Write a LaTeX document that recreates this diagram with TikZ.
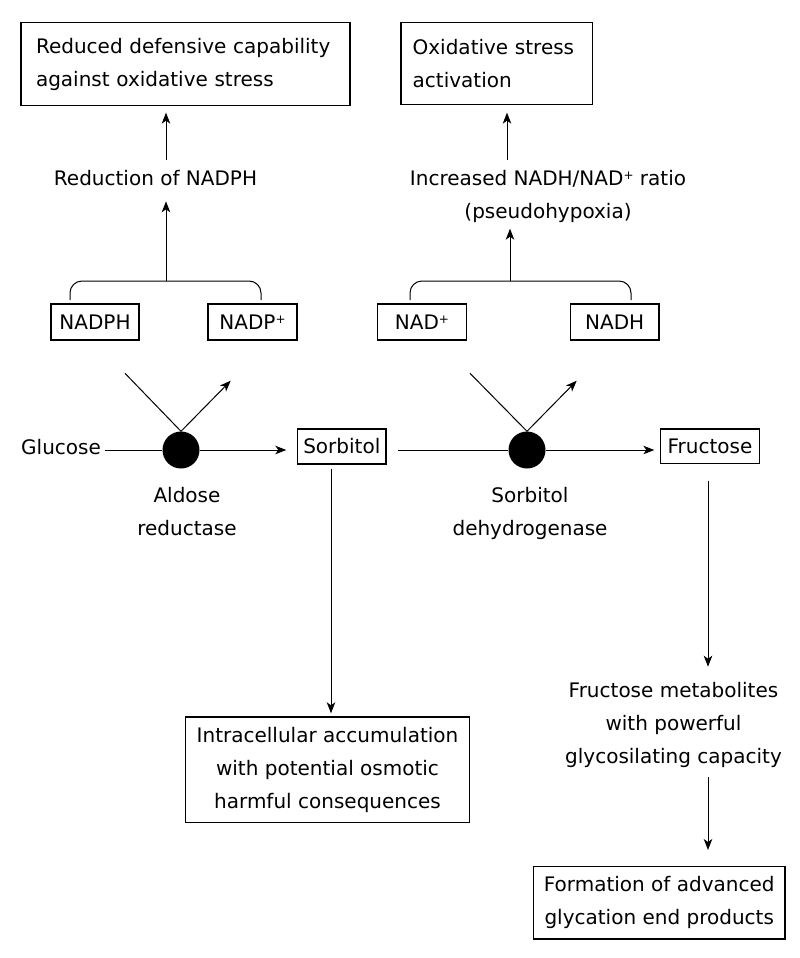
\documentclass[tikz,border=0pt]{standalone}
\usepackage{fontspec}
\setmainfont{DejaVu Sans}
\usetikzlibrary{arrows.meta}
\newcommand{\plussup}{\smash{\raisebox{6pt}{\fontsize{12}{12}\selectfont +}}}
\begin{document}
\begin{tikzpicture}[x=1pt,y=-1pt,
  every node/.style={font=\fontsize{20}{33}\selectfont, inner sep=0pt},
  box/.style={draw, line width=1.3pt},
  sbox/.style={box, text height=14.6pt, text depth=0pt},
  arr/.style={-{Stealth[length=11pt,width=8.5pt,inset=3pt]}, line width=1pt},
  ln/.style={line width=1pt},
  dot/.style={circle, fill=black, minimum size=37pt, inner sep=0pt}]

\useasboundingbox (0,0) rectangle (800,958);

% top boxes
\node[box, text width=299pt, inner xsep=15pt, align=left, minimum height=82.6pt] (box1) at (185.5,64) {Reduced defensive capability\\against oxidative stress};
\node[box, text width=168.3pt, inner xsep=11.7pt, align=left, minimum height=81.6pt] (box2) at (496.8,63.5) {Oxidative stress\\activation};

% middle texts
\node (red) at (155.5,178.4) {Reduction of NADPH};
\node[align=center] (incr) at (548,196) {Increased NADH/NAD\plussup{} ratio\\(pseudohypoxia)};

% cofactor boxes
\node[sbox, minimum width=88pt, minimum height=36pt] (nadph) at (95,322) {NADPH};
\node[sbox, minimum width=89pt, minimum height=36pt] (nadp) at (252.5,322) {NADP\plussup};
\node[sbox, minimum width=88.6pt, minimum height=36pt] (nad) at (422,322) {NAD\plussup};
\node[sbox, minimum width=88.7pt, minimum height=36pt] (nadh) at (614.7,322) {NADH};

% main pathway
\node[anchor=base west] (gluc) at (21,454.3) {Glucose};
\node[dot] (cL) at (181,450) {};
\node[dot] (cR) at (527,450) {};
\node[sbox, minimum width=88.3pt, minimum height=35pt] (sorb) at (341.8,446.5) {Sorbitol};
\node[sbox, minimum width=98.6pt, minimum height=34.3pt] (fruc) at (710,446.2) {Fructose};

\node[align=center] (ald) at (187,512) {Aldose\\reductase};
\node[align=center] (sdh) at (530,513.6) {Sorbitol\\dehydrogenase};

% bottom
\node[box, align=center, minimum width=283.6pt, minimum height=105.7pt] (intra) at (327.5,769.8) {Intracellular accumulation\\with potential osmotic\\harmful consequences};
\node[align=center] (met) at (673.5,724.9) {Fructose metabolites\\with powerful\\glycosilating capacity};
\node[box, align=center, minimum width=251.7pt, minimum height=72.3pt] (age) at (659.2,902.8) {Formation of advanced\\glycation end products};

% coordinates
\coordinate (bL) at (166,281);
\coordinate (bLa) at (70,300);
\coordinate (bLb) at (261,300);
\coordinate (bR) at (510,281);
\coordinate (bR2) at (507,281);
\coordinate (bRa) at (410,300);
\coordinate (bRb) at (631,300);
\coordinate (inL) at (125,373.3);
\coordinate (outL) at (230.7,380.7);
\coordinate (inR) at (470,373.3);
\coordinate (outR) at (576.7,380.7);
\coordinate (sd) at ([xshift=-10.8pt]sorb.south);
\coordinate (fd) at ([xshift=-2pt]fruc.south);

% braces
\draw[ln, rounded corners=12pt] (bLa) |- (bL) -| (bLb);
\draw[ln, rounded corners=12pt] (bRa) |- (bR) -| (bRb);

% vertical arrows top
\draw[arr, shorten >=15pt] (bL) -- (bL |- red.south);
\draw[arr, shorten <=10.8pt, shorten >=6.7pt] (red.north -| bL) -- (box1.south -| bL);
\draw[arr, shorten >=6.3pt] (bR) -- (bR |- incr.south);
\draw[arr, shorten <=9.8pt, shorten >=7.7pt] (incr.north -| bR2) -- (box2.south -| bR2);

% diagonals
\draw[ln] (inL) -- (cL.north);
\draw[arr] (cL.north) -- (outL);
\draw[ln] (inR) -- (cR.north);
\draw[arr] (cR.north) -- (outR);

% horizontal pathway
\draw[ln, shorten <=3.6pt] (gluc.east |- cL) -- (cL);
\draw[arr, shorten >=10.7pt] (cL) -- (cL -| sorb.west);
\draw[ln, shorten <=11.3pt] (sorb.east |- cR) -- (cR);
\draw[arr, shorten >=5.7pt] (cR) -- (cR -| fruc.west);

% downward arrows
\draw[arr, shorten <=4pt, shorten >=3pt] (sd) -- (sd |- intra.north);
\draw[arr, shorten <=16.7pt, shorten >=15.3pt] (fd) -- (fd |- met.north);
\draw[arr, shorten <=9.5pt, shorten >=16pt] (fd |- met.south) -- (fd |- age.north);
\end{tikzpicture}
\end{document}
